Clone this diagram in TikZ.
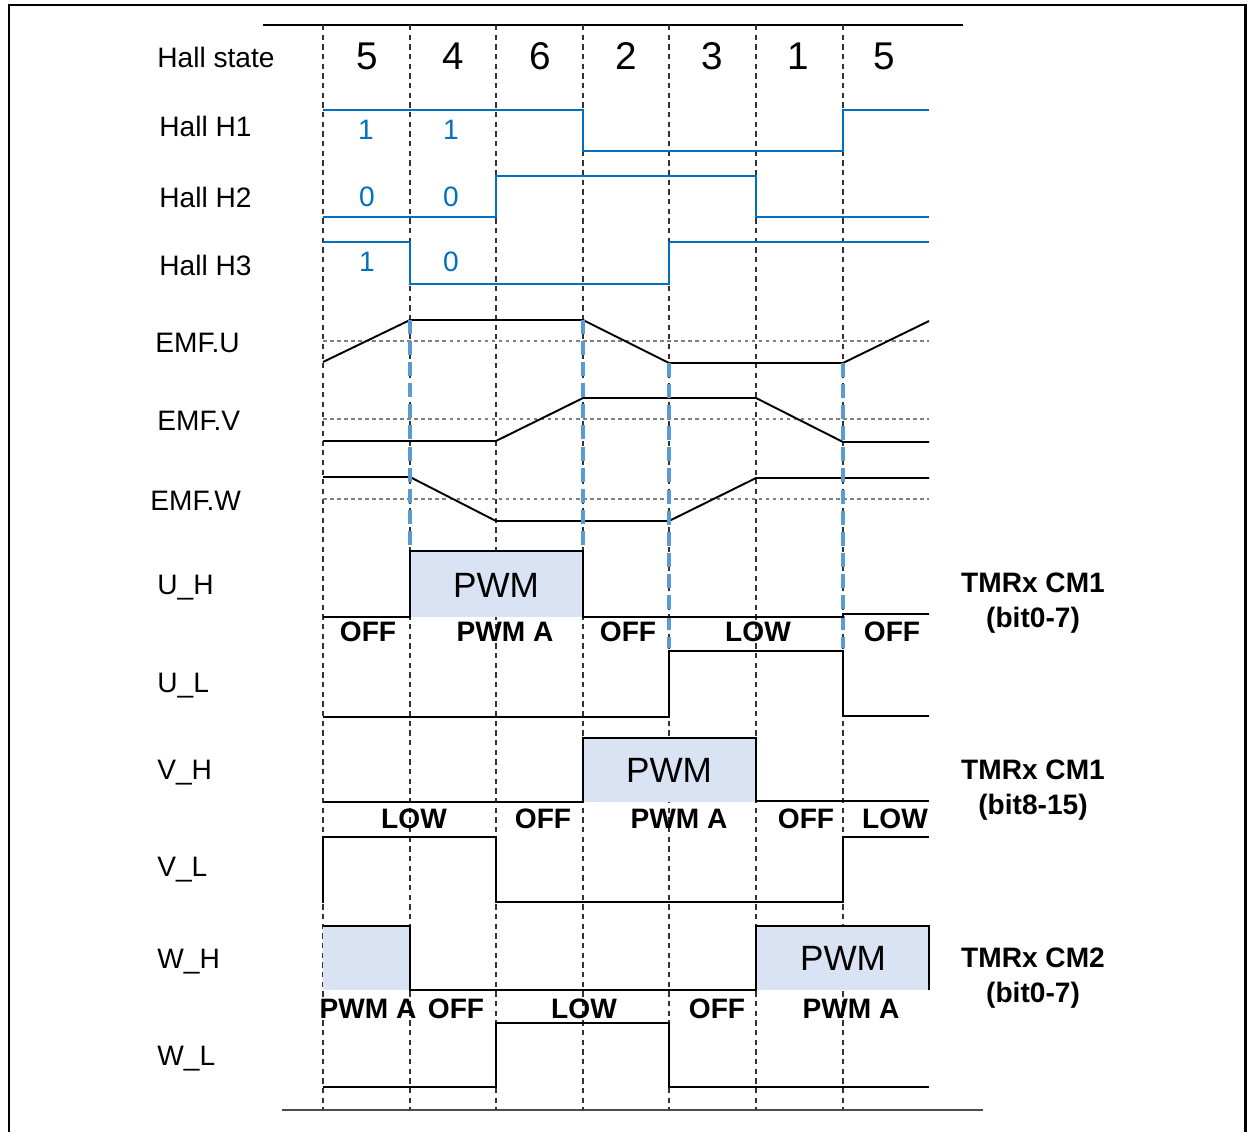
\documentclass[tikz,border=0pt]{standalone}
\usepackage{fontspec}
\setmainfont{Liberation Sans}
\usepackage{tikz}
\definecolor{hallblue}{RGB}{0,112,192}
\definecolor{edgeblue}{RGB}{91,155,213}
\definecolor{pwmfill}{RGB}{218,227,243}
\tikzstyle{tick} = [black!80, line width=0.6pt, dash pattern=on 3pt off 2.5pt]
\tikzstyle{axisline} = [black!50, line width=0.6pt, dash pattern=on 2pt off 2pt]
\tikzstyle{cutline} = [edgeblue, line width=2pt, dash pattern=on 8pt off 4pt]
\tikzstyle{hall} = [hallblue, line width=1.3pt]
\tikzstyle{sig} = [black, line width=1.1pt]
\tikzstyle{lbl} = [anchor=west, inner sep=0, font=\fontsize{16}{19}\selectfont]
\tikzstyle{hs} = [font=\fontsize{22}{26}\selectfont]
\tikzstyle{bit} = [text=hallblue, font=\fontsize{16}{19}\selectfont]
\tikzstyle{pwm} = [font=\fontsize{20}{24}\selectfont]
\tikzstyle{mode} = [font=\bfseries\fontsize{16}{19}\selectfont]
\tikzstyle{reg} = [align=center, font=\bfseries\fontsize{16}{20}\selectfont]

\begin{document}
\begin{tikzpicture}[x=0.02cm, y=-0.02cm]
        \useasboundingbox (0,0) rectangle (1253,1132);
        \draw[line width=1.7pt] (9,1132) -- (9,5) -- (1245,5) -- (1245,1132);
        \draw[line width=0.8pt] (263,25) -- (963,25);
        \draw[line width=0.8pt, black!70] (282,1110) -- (983,1110);

        % grid
        \draw[tick] (323,25) -- (323,1110);
        \draw[tick] (410,25) -- (410,1110);
        \draw[tick] (496,25) -- (496,1110);
        \draw[tick] (583,25) -- (583,1110);
        \draw[tick] (669,25) -- (669,1110);
        \draw[tick] (756,25) -- (756,1110);
        \draw[tick] (843,25) -- (843,1110);

        % row names
        \node[lbl] at (157,57) (lstate) {Hall state};
        \node[lbl] at (159,126) (lh1) {Hall H1};
        \node[lbl] at (159,197) (lh2) {Hall H2};
        \node[lbl] at (159,265) (lh3) {Hall H3};
        \node[lbl] at (155,343) (lemfu) {EMF.U};
        \node[lbl] at (157,421) (lemfv) {EMF.V};
        \node[lbl] at (150,501) (lemfw) {EMF.W};
        \node[lbl] at (157,588) (luh) {U\_H};
        \node[lbl] at (157,686) (lul) {U\_L};
        \node[lbl] at (157,773) (lvh) {V\_H};
        \node[lbl] at (157,870) (lvl) {V\_L};
        \node[lbl] at (157,962) (lwh) {W\_H};
        \node[lbl] at (157,1059) (lwl) {W\_L};

        % hall states
        \node[hs] at (367,56) (s1) {5};
        \node[hs] at (453,56) (s2) {4};
        \node[hs] at (540,56) (s3) {6};
        \node[hs] at (626,56) (s4) {2};
        \node[hs] at (712,56) (s5) {3};
        \node[hs] at (798,56) (s6) {1};
        \node[hs] at (884,56) (s7) {5};

        % hall signals
        \draw[hall] (323,110) -- (583,110) -- (583,151) -- (843,151) -- (843,110) -- (929,110);
        \draw[hall] (323,217) -- (496,217) -- (496,176) -- (756,176) -- (756,217) -- (929,217);
        \draw[hall] (323,242) -- (410,242) -- (410,284) -- (669,284) -- (669,242) -- (929,242);
        \node[bit] at (366,130) (b11) {1};
        \node[bit] at (451,130) (b12) {1};
        \node[bit] at (367,197) (b21) {0};
        \node[bit] at (451,197) (b22) {0};
        \node[bit] at (367,262) (b31) {1};
        \node[bit] at (451,262) (b32) {0};

        % back emf
        \draw[axisline] (323,341) -- (929,341);
        \draw[axisline] (323,419) -- (929,419);
        \draw[axisline] (323,499) -- (929,499);
        \draw[sig] (323,362) -- (410,320) -- (583,320) -- (669,363) -- (843,363) -- (929,321);
        \draw[sig] (323,441) -- (496,441) -- (583,398) -- (756,398) -- (843,442) -- (929,442);
        \draw[sig] (323,477) -- (410,477) -- (496,521) -- (669,521) -- (756,478) -- (929,478);

        % commutation points
        \draw[cutline] (410,320) -- (410,550);
        \draw[cutline] (583,320) -- (583,550);
        \draw[cutline] (669,363) -- (669,648);
        \draw[cutline] (843,363) -- (843,648);

        % switch signals
        \fill[pwmfill] (410,551) rectangle (583,617);
        \fill[pwmfill] (583,738) rectangle (756,802);
        \fill[pwmfill] (323,926) rectangle (410,990);
        \fill[pwmfill] (756,926) rectangle (929,990);
        \draw[sig] (323,617) -- (410,617) -- (410,551) -- (583,551) -- (583,617) -- (843,617) -- (843,614) -- (929,614);
        \draw[sig] (323,717) -- (669,717) -- (669,651) -- (843,651) -- (843,716) -- (929,716);
        \draw[sig] (323,802) -- (583,802) -- (583,738) -- (756,738) -- (756,801) -- (929,801);
        \draw[sig] (323,903) -- (323,837) -- (496,837) -- (496,902) -- (843,902) -- (843,837) -- (929,837);
        \draw[sig] (323,926) -- (410,926) -- (410,990) -- (756,990) -- (756,926) -- (929,926) -- (929,990);
        \draw[sig] (323,1087) -- (496,1087) -- (496,1023) -- (669,1023) -- (669,1087) -- (929,1087);
        \node[pwm] at (496,585) (pwmu) {PWM};
        \node[pwm] at (669,770) (pwmv) {PWM};
        \node[pwm] at (843,958) (pwmw) {PWM};

        % modes
        \node[mode] at (368,632) (mu1) {OFF};
        \node[mode] at (505,632) (mu2) {PWM A};
        \node[mode] at (628,632) (mu3) {OFF};
        \node[mode] at (758,632) (mu4) {LOW};
        \node[mode] at (892,632) (mu5) {OFF};
        \node[mode] at (414,819) (mv1) {LOW};
        \node[mode] at (543,819) (mv2) {OFF};
        \node[mode] at (679,819) (mv3) {PWM A};
        \node[mode] at (806,819) (mv4) {OFF};
        \node[mode] at (895,819) (mv5) {LOW};
        \node[mode] at (368,1009) (mw1) {PWM A};
        \node[mode] at (456,1009) (mw2) {OFF};
        \node[mode] at (584,1009) (mw3) {LOW};
        \node[mode] at (717,1009) (mw4) {OFF};
        \node[mode] at (851,1009) (mw5) {PWM A};

        % registers
        \node[reg] at (1033,603) (regu) {TMRx CM1\\(bit0-7)};
        \node[reg] at (1033,790) (regv) {TMRx CM1\\(bit8-15)};
        \node[reg] at (1033,978) (regw) {TMRx CM2\\(bit0-7)};

    \end{tikzpicture}
\end{document}
